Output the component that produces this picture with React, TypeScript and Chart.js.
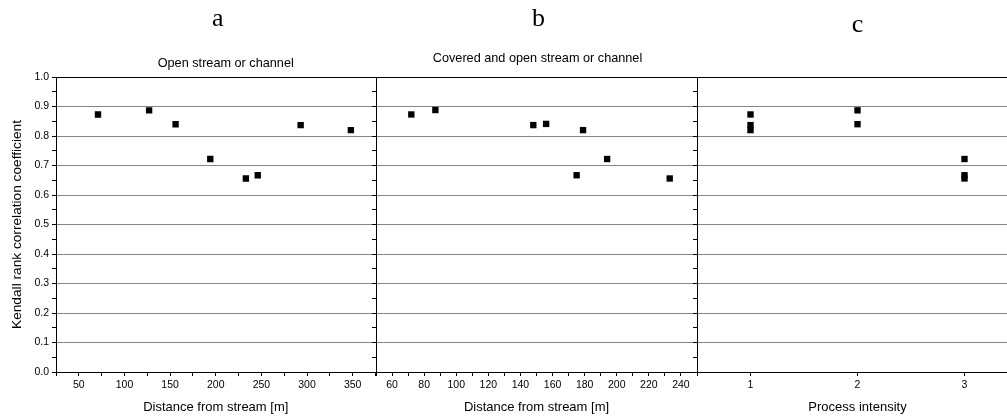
import React, { useEffect, useRef } from 'react';
import { Chart, registerables } from 'chart.js';

Chart.register(...registerables);

// ---------- data ----------
const aDistance = [71, 127, 156, 194, 233, 246, 293, 348];
const aKendall = [0.873, 0.887, 0.840, 0.722, 0.656, 0.667, 0.837, 0.820];

const bDistance = [72, 87, 148, 156, 179, 175, 194, 233];
const bKendall = [0.873, 0.888, 0.837, 0.841, 0.820, 0.667, 0.722, 0.656];

const cIntensity = [1, 1, 1, 2, 2, 3, 3, 3];
const cKendall = [0.873, 0.837, 0.820, 0.887, 0.840, 0.722, 0.667, 0.656];

// ---------- tick labels ----------
const yTickLabels = [0.0, 0.1, 0.2, 0.3, 0.4, 0.5, 0.6, 0.7, 0.8, 0.9, 1.0];
const aTickLabels = [50, 100, 150, 200, 250, 300, 350];
const bTickLabels = [60, 80, 100, 120, 140, 160, 180, 200, 220, 240];
const cTickLabels = [1, 2, 3];

const panelLetters = ['a', 'b', 'c'];
const panelSubtitles = ['Open stream or channel', 'Covered and open stream or channel', ''];
const xTitles = ['Distance from stream [m]', 'Distance from stream [m]', 'Process intensity'];
const yTitle = 'Kendall rank correlation coefficient';

const SANS = "Arial, 'Liberation Sans', sans-serif";
const SERIF = "'Times New Roman', 'Liberation Serif', serif";
const GRID = '#858585';

const near = (v: number, list: number[]) => list.some((l) => Math.abs(l - v) < 1e-6);

const panelText = {
  id: 'panelText',
  afterDraw(chart: any, _args: any, opts: any) {
    const { ctx, chartArea } = chart;
    const cx = (chartArea.left + chartArea.right) / 2;
    ctx.save();
    ctx.fillStyle = '#000';
    ctx.textAlign = 'center';
    ctx.textBaseline = 'alphabetic';
    ctx.font = `26px ${SERIF}`;
    ctx.fillText(opts.letter, cx + (opts.letterDx || 0), opts.letterY);
    if (opts.subtitle) {
      ctx.font = `12.7px ${SANS}`;
      ctx.fillText(opts.subtitle, cx + (opts.subtitleDx || 0), opts.subtitleY);
    }
    ctx.restore();
  },
};

type PanelSpec = {
  left: number;
  width: number;
  yWidth: number;
  padRight: number;
  xs: number[];
  ys: number[];
  xMin: number;
  xMax: number;
  xStep: number;
  xLabels: number[];
  fixedTicks?: number[];
  showYLabels: boolean;
  letter: string;
  letterY: number;
  letterDx: number;
  subtitle: string;
  subtitleY: number;
  subtitleDx: number;
  xTitle: string;
};

const specs: PanelSpec[] = [
  {
    left: 0, width: 380, yWidth: 56, padRight: 4,
    xs: aDistance, ys: aKendall, xMin: 25, xMax: 375, xStep: 25, xLabels: aTickLabels,
    showYLabels: true, letter: panelLetters[0], letterY: 25.5, letterDx: 2,
    subtitle: panelSubtitles[0], subtitleY: 66.5, subtitleDx: 10, xTitle: xTitles[0],
  },
  {
    left: 366, width: 336, yWidth: 10, padRight: 5,
    xs: bDistance, ys: bKendall, xMin: 50, xMax: 250, xStep: 10, xLabels: bTickLabels,
    showYLabels: false, letter: panelLetters[1], letterY: 25.5, letterDx: 2,
    subtitle: panelSubtitles[1], subtitleY: 62, subtitleDx: 1, xTitle: xTitles[1],
  },
  {
    left: 687, width: 336, yWidth: 10, padRight: 5,
    xs: cIntensity, ys: cKendall, xMin: 0.5, xMax: 3.5, xStep: 1, xLabels: cTickLabels,
    fixedTicks: cTickLabels,
    showYLabels: false, letter: panelLetters[2], letterY: 32, letterDx: 0,
    subtitle: panelSubtitles[2], subtitleY: 0, subtitleDx: 0, xTitle: xTitles[2],
  },
];

function Panel({ spec }: { spec: PanelSpec }) {
  const ref = useRef<HTMLCanvasElement | null>(null);
  useEffect(() => {
    if (!ref.current) return;
    const s = spec;
    const chart = new Chart(ref.current, {
      type: 'scatter',
      data: {
        datasets: [
          {
            data: s.xs.map((x, i) => ({ x, y: s.ys[i] })),
            pointStyle: 'rect',
            pointRadius: 4.5,
            pointHoverRadius: 4.5,
            backgroundColor: '#000',
            borderColor: '#000',
            borderWidth: 0,
            showLine: false,
          },
        ],
      },
      options: {
        animation: false,
        responsive: false,
        devicePixelRatio: 1,
        events: [],
        layout: { padding: { left: 0, right: s.padRight, top: 77, bottom: 0 } },
        plugins: {
          legend: { display: false },
          tooltip: { enabled: false },
          title: { display: false },
          panelText: {
            letter: s.letter,
            letterY: s.letterY,
            letterDx: s.letterDx,
            subtitle: s.subtitle,
            subtitleY: s.subtitleY,
            subtitleDx: s.subtitleDx,
          },
        } as any,
        scales: {
          x: {
            type: 'linear',
            position: 'bottom',
            min: s.xMin,
            max: s.xMax,
            afterBuildTicks: s.fixedTicks
              ? (scale: any) => {
                  scale.ticks = s.fixedTicks!.map((v) => ({ value: v }));
                }
              : undefined,
            afterFit: (scale: any) => {
              scale.height = 47;
            },
            ticks: {
              stepSize: s.xStep,
              autoSkip: false,
              maxRotation: 0,
              minRotation: 0,
              padding: 3,
              color: '#000',
              font: { family: SANS, size: 10.5 },
              callback: (v: any) => (near(Number(v), s.xLabels) ? String(v) : ''),
            },
            grid: {
              drawOnChartArea: false,
              drawTicks: true,
              tickLength: 4,
              tickColor: '#000',
              tickWidth: 1,
            },
            border: { display: true, color: '#000', width: 1 },
            title: {
              display: true,
              text: s.xTitle,
              color: '#000',
              font: { family: SANS, size: 13, lineHeight: 1.2 },
              padding: { top: 0, bottom: 4 },
            },
          },
          y: {
            type: 'linear',
            position: 'left',
            min: 0,
            max: 1,
            afterFit: (scale: any) => {
              scale.width = s.yWidth;
            },
            ticks: {
              display: s.showYLabels,
              stepSize: 0.05,
              autoSkip: false,
              padding: 3,
              color: '#000',
              font: { family: SANS, size: 10.5 },
              callback: (v: any) =>
                near(Number(v), yTickLabels) ? Number(v).toFixed(1) : '',
            },
            grid: {
              drawOnChartArea: true,
              drawTicks: true,
              tickLength: 4,
              tickColor: '#000',
              lineWidth: 1,
              color: (ctx: any) => {
                const v = ctx.tick ? ctx.tick.value : 0;
                if (Math.abs(v - 1) < 1e-6) return '#000';
                return near(v, yTickLabels) ? GRID : 'rgba(0,0,0,0)';
              },
            },
            border: { display: true, color: '#000', width: 1 },
            title: {
              display: s.showYLabels,
              text: yTitle,
              color: '#000',
              font: { family: SANS, size: 13.7, lineHeight: 1.2 },
              padding: { top: 9, bottom: 0 },
            },
          },
        },
      },
      plugins: [panelText],
    } as any);
    return () => chart.destroy();
  }, [spec]);
  return (
    <canvas
      ref={ref}
      width={spec.width}
      height={419}
      style={{ position: 'absolute', left: spec.left, top: 0, width: spec.width, height: 419 }}
    />
  );
}

export default function App() {
  return (
    <div
      style={{
        position: 'fixed',
        left: 0,
        top: 0,
        width: 1007,
        height: 419,
        overflow: 'hidden',
        background: '#fff',
      }}
    >
      {specs.map((s, i) => (
        <Panel key={i} spec={s} />
      ))}
    </div>
  );
}
